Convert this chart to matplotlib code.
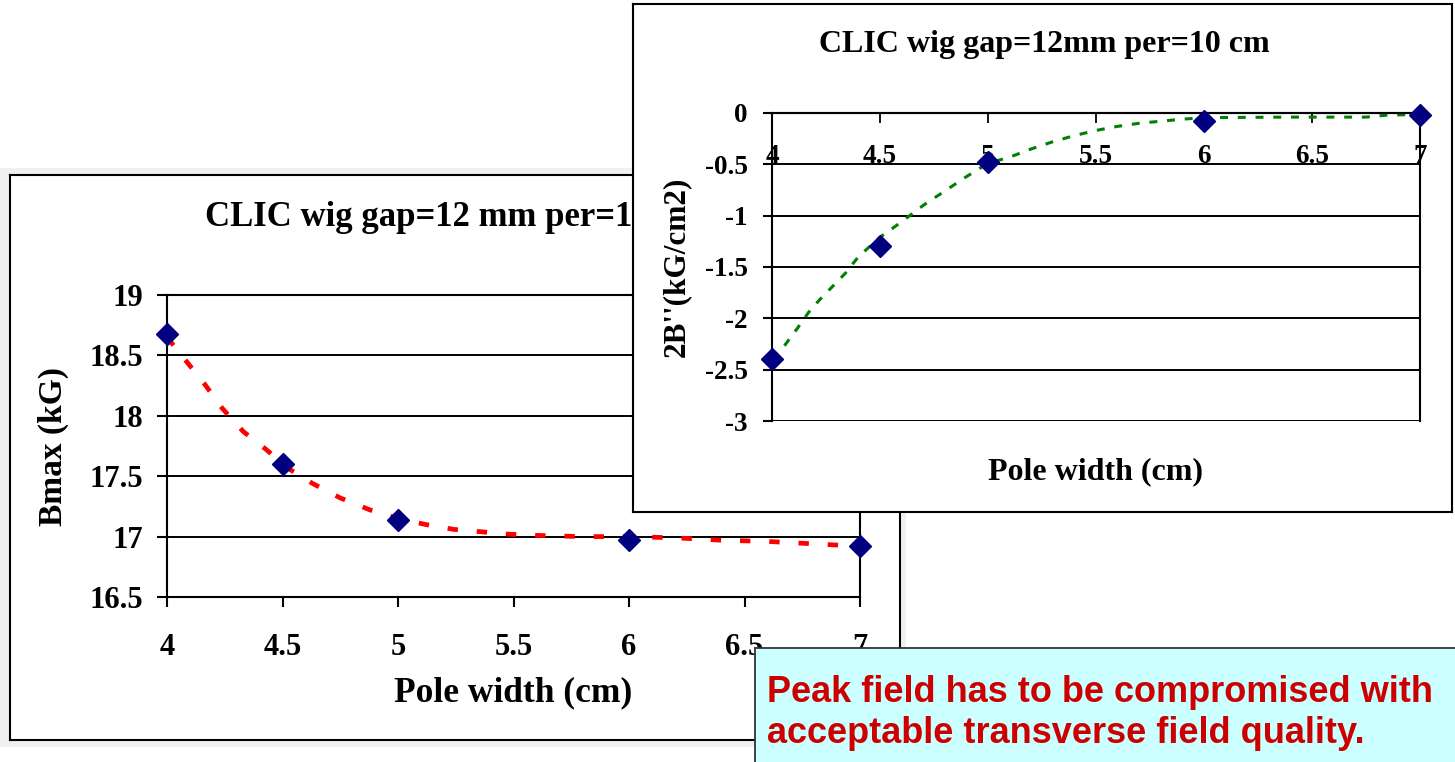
import numpy as np
import matplotlib
matplotlib.use("Agg")
import matplotlib.pyplot as plt
from matplotlib.patches import Rectangle
from matplotlib.ticker import FormatStrFormatter

plt.rcParams["axes.unicode_minus"] = False
SERIF = "Liberation Serif"

# left chart: peak field vs pole width
pole_w = [4.0, 4.5, 5.0, 6.0, 7.0]
bmax = [18.68, 17.60, 17.14, 16.97, 16.92]
# trend line
bmax_trend_x = [4.0, 4.08, 4.16, 4.24, 4.33, 4.43, 4.52, 4.63, 4.75, 4.88, 5.0, 5.12,
                5.24, 5.36, 5.48, 5.6, 5.8, 6.0, 6.2, 6.4, 6.6, 6.8, 7.0]
bmax_trend_y = [18.65, 18.46, 18.27, 18.06, 17.87, 17.72, 17.57, 17.44, 17.32, 17.22,
                17.15, 17.10, 17.06, 17.04, 17.02, 17.01, 17.0, 17.0, 16.99, 16.97,
                16.96, 16.94, 16.92]

# right chart: 2B'' vs pole width
b2 = [-2.40, -1.30, -0.48, -0.08, -0.02]
b2_trend_x = [4.0, 4.06, 4.12, 4.17, 4.22, 4.28, 4.34, 4.40, 4.5, 4.6, 4.7, 4.8, 4.9,
              5.0, 5.1, 5.2, 5.3, 5.4, 5.5, 5.6, 5.7, 5.8, 5.9, 6.0, 6.4, 6.75, 6.85, 7.0]
b2_trend_y = [-2.39, -2.26, -2.09, -1.94, -1.82, -1.69, -1.56, -1.40, -1.21, -1.06,
              -0.90, -0.76, -0.62, -0.49, -0.43, -0.35, -0.28, -0.22, -0.17, -0.13,
              -0.10, -0.08, -0.06, -0.045, -0.04, -0.04, -0.02, -0.015]

xticks = [4, 4.5, 5, 5.5, 6, 6.5, 7]
left_yticks = [16.5, 17, 17.5, 18, 18.5, 19]
right_yticks = [-3, -2.5, -2, -1.5, -1, -0.5, 0]

W, H = 1455, 762


def rect(x0, y0, x1, y1):
    # pixel box (top-left origin) -> figure fraction [l, b, w, h]
    return [x0 / W, 1 - y1 / H, (x1 - x0) / W, (y1 - y0) / H]


def frame(fig, r, z):
    a = fig.add_axes(r, zorder=z)
    a.set_xticks([])
    a.set_yticks([])
    a.set_facecolor("white")
    for s in a.spines.values():
        s.set_linewidth(1.5)
        s.set_color("black")
    return a


def style_chart(ax, tsize):
    for s in ax.spines.values():
        s.set_linewidth(1.5)
        s.set_color("black")
    ax.grid(axis="y", color="black", linewidth=1.4)
    ax.set_axisbelow(True)
    for lab in ax.get_xticklabels() + ax.get_yticklabels():
        lab.set_fontfamily(SERIF)
        lab.set_fontweight("bold")
        lab.set_fontsize(tsize)


fig = plt.figure(figsize=(W / 100, H / 100), dpi=100)

# light grey shadow behind the left panel
fig.patches.append(Rectangle((0, 1 - 747 / H), 906 / W, (747 - 168) / H,
                             transform=fig.transFigure, facecolor="#f0f0f0",
                             edgecolor="none", zorder=0.5))
frame(fig, rect(10, 175, 900, 740), 1)

# ---- left chart
ax1 = fig.add_axes(rect(167, 295, 860, 597), zorder=2)
ax1.plot(bmax_trend_x, bmax_trend_y, color="red", linewidth=3.4, dashes=(2.2, 4.0))
ax1.plot(pole_w, bmax, "D", color="#000080", markersize=11, zorder=3, clip_on=False)
ax1.set_xlim(4, 7)
ax1.set_ylim(16.5, 19)
ax1.set_xticks(xticks)
ax1.set_yticks(left_yticks)
ax1.xaxis.set_major_formatter(FormatStrFormatter("%g"))
ax1.yaxis.set_major_formatter(FormatStrFormatter("%g"))
ax1.tick_params(axis="x", length=7.2, width=1.5, pad=19)
ax1.tick_params(axis="y", length=7.2, width=1.5, pad=10)
style_chart(ax1, 22)
ax1.text(0.414, 1.255, "CLIC wig gap=12 mm per=10 cm", transform=ax1.transAxes,
         ha="center", va="center", family=SERIF, weight="bold", fontsize=25, clip_on=False)
ax1.text(0.5, -0.318, "Pole width (cm)", transform=ax1.transAxes, ha="center",
         va="center", family=SERIF, weight="bold", fontsize=25.5)
ax1.text(-0.1645, 0.5, "Bmax (kG)", transform=ax1.transAxes, ha="center", va="center",
         rotation=90, family=SERIF, weight="bold", fontsize=24)

# ---- right chart (drawn over the left one)
frame(fig, rect(633, 4, 1452, 512), 3)
ax2 = fig.add_axes(rect(772, 113, 1420, 421), zorder=4)
ax2.plot(b2_trend_x, b2_trend_y, color="green", linewidth=2.2, dashes=(2.6, 3.2))
ax2.plot(pole_w, b2, "D", color="#000080", markersize=11, zorder=3, clip_on=False)
ax2.set_xlim(4, 7)
ax2.set_ylim(-3, 0)
ax2.set_xticks(xticks)
ax2.set_yticks(right_yticks)
ax2.spines["bottom"].set_position(("data", 0))
ax2.xaxis.set_major_formatter(FormatStrFormatter("%g"))
ax2.yaxis.set_major_formatter(FormatStrFormatter("%g"))
ax2.tick_params(axis="x", length=7.2, width=1.3, pad=15)
ax2.tick_params(axis="y", length=6.5, width=1.5, pad=11)
style_chart(ax2, 19.5)
ax2.text(0.421, 1.221, "CLIC wig gap=12mm per=10 cm", transform=ax2.transAxes,
         ha="center", va="center", family=SERIF, weight="bold", fontsize=23, clip_on=False)
ax2.text(0.5, -0.1656, "Pole width (cm)", transform=ax2.transAxes, ha="center",
         va="center", family=SERIF, weight="bold", fontsize=23)
ax2.text(-0.147, 0.5, "2B''(kG/cm2)", transform=ax2.transAxes, ha="center", va="center",
         rotation=90, family=SERIF, weight="bold", fontsize=22.5)

# ---- note box
note = fig.add_axes([755 / W, -0.02, 0.5, (762 - 648) / H + 0.02], zorder=5)
note.set_xticks([])
note.set_yticks([])
note.set_facecolor("#ccffff")
for s in note.spines.values():
    s.set_color("#333333")
    s.set_linewidth(1.3)
fig.text(767 / W, 1 - 713 / H,
         "Peak field has to be compromised with\nacceptable transverse field quality.",
         ha="left", va="center", color="#cc0000", family="Liberation Sans",
         weight="bold", fontsize=26, linespacing=1.2, zorder=6)

fig.savefig("out.png", dpi=100)
